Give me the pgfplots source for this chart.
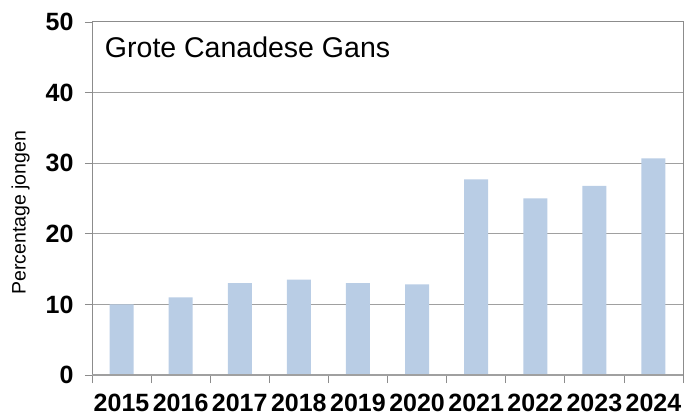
\documentclass[border=0pt]{standalone}
\usepackage{pgfplots}
\pgfplotsset{compat=1.18}
\usepackage{fontspec}
\setmainfont{Liberation Sans}
\definecolor{barblue}{HTML}{B9CDE5}
\definecolor{gridgray}{HTML}{A0A0A0}
\definecolor{framegray}{HTML}{8C8C8C}
\begin{document}
\begin{tikzpicture}
\useasboundingbox (-92pt,-42pt) rectangle (592pt,375pt);
\begin{axis}[
    at={(0pt,0pt)}, anchor=south west,
    scale only axis,
    width=591pt, height=353pt,
    xmin=-0.5, xmax=9.5,
    ymin=0, ymax=50,
    ytick={0,10,20,30,40,50},
    yticklabels={0,10,20,30,40,50},
    xtick={0,...,9},
    xticklabels={2015,2016,2017,2018,2019,2020,2021,2022,2023,2024},
    minor xtick={-0.5,0.5,...,9.5},
    major tick length=7pt,
    minor tick length=8pt,
    x tick style={draw=none},
    minor x tick style={draw=framegray, line width=0.8pt},
    y tick style={draw=framegray, line width=0.8pt},
    tick align=outside,
    tick pos=left,
    ymajorgrids,
    grid style={gridgray, line width=1pt},
    axis line style={framegray, line width=1pt},
    xticklabel style={font=\fontsize{25}{30}\selectfont\bfseries, yshift=-9pt},
    yticklabel style={font=\fontsize{25}{30}\selectfont\bfseries, xshift=-8pt},
    ylabel={Percentage jongen},
    ylabel style={font=\fontsize{19.5}{23}\selectfont, at={(rel axis cs:-0.121,0.46)}, anchor=center, rotate=0},
    ybar, bar width=24pt,
    axis on top=false,
    clip=false,
]
\addplot[fill=barblue, draw=none] coordinates {
    (0,10.0) (1,11.0) (2,13.0) (3,13.5) (4,13.0)
    (5,12.85) (6,27.7) (7,25.0) (8,26.8) (9,30.7)
};
\draw[gridgray, line width=1.5pt] (axis cs:-0.5,0) -- (axis cs:9.5,0);
\node[anchor=west, font=\fontsize{28.5}{32}\selectfont] at (rel axis cs:0.016,0.927) {Grote Canadese Gans};
\end{axis}
\end{tikzpicture}
\end{document}
